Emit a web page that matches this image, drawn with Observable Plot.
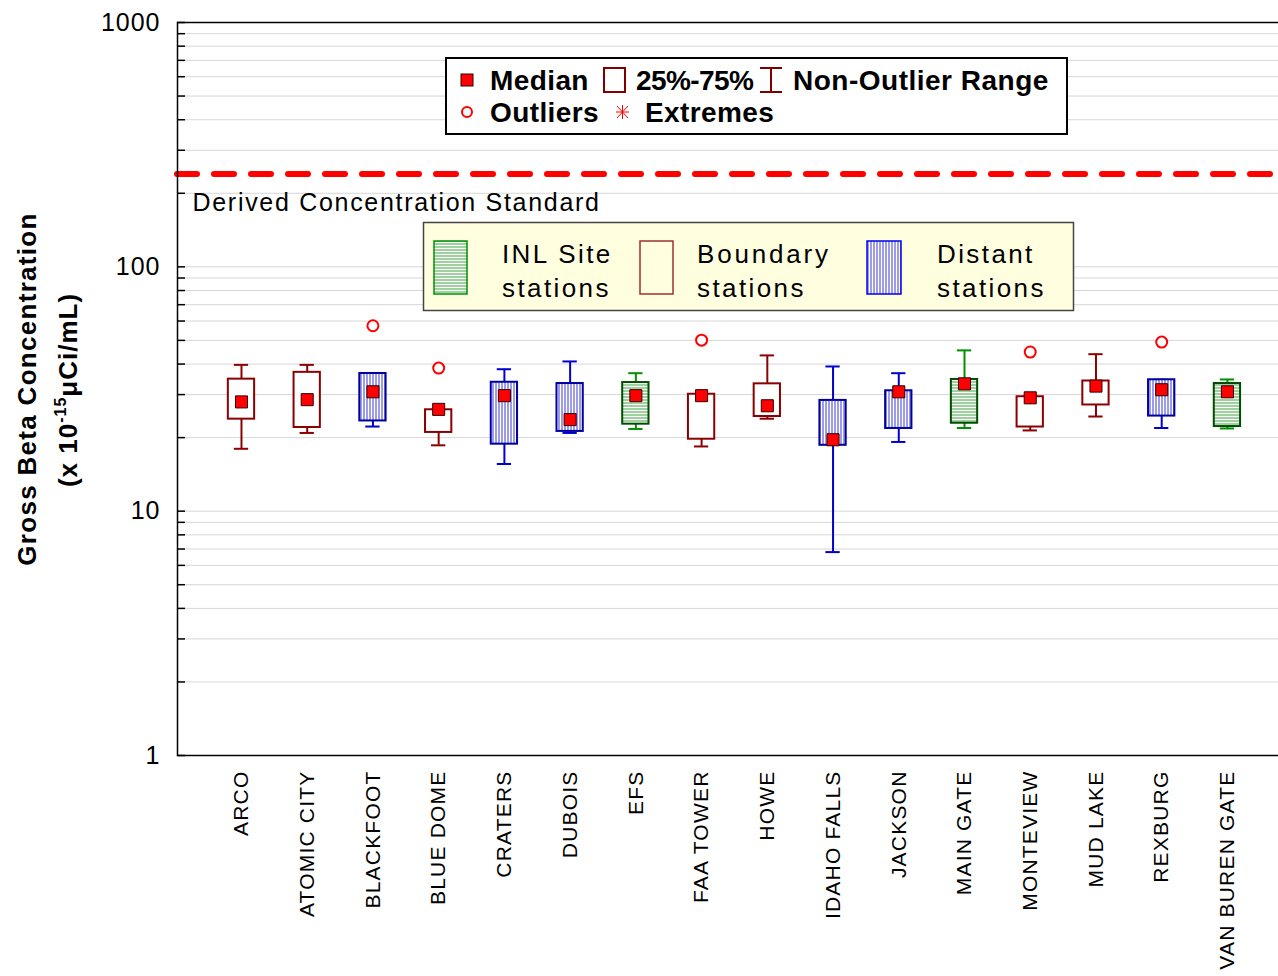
<!DOCTYPE html>
<html>
<head>
<meta charset="utf-8">
<script src="https://cdn.jsdelivr.net/npm/d3@7"></script>
<script src="https://cdn.jsdelivr.net/npm/@observablehq/plot@0.6"></script>
<style>
  html, body { margin: 0; padding: 0; background: white; }
  #wrap { position: relative; width: 1278px; height: 976px; overflow: hidden; }
  #overlay { position: absolute; left: 0; top: 0; pointer-events: none; }
  text { font-family: "Liberation Sans", Arial, sans-serif; }
</style>
</head>
<body>
<svg width="0" height="0" style="position:absolute">
  <defs>
    <pattern id="hatchV" patternUnits="userSpaceOnUse" width="3" height="3">
      <rect width="3" height="3" fill="white"/>
      <rect x="0" y="0" width="2" height="3" fill="#9c9ce8"/>
    </pattern>
    <pattern id="hatchH" patternUnits="userSpaceOnUse" width="3" height="3">
      <rect width="3" height="3" fill="white"/>
      <rect x="0" y="0" width="3" height="2" fill="#9fd09f"/>
    </pattern>
  </defs>
</svg>
<div id="wrap">
  <div id="chart"></div>
  <svg id="overlay" width="1278" height="976">
    <!-- legend 1 -->
    <rect x="446" y="58" width="621" height="76" fill="white" stroke="black" stroke-width="2"/>
    <rect x="461" y="74" width="12" height="12" fill="red" stroke="#300" stroke-width="1"/>
    <text x="490" y="90" font-size="28" font-weight="bold" style="letter-spacing:0.4px">Median</text>
    <rect x="604" y="68" width="21" height="24" fill="none" stroke="#800000" stroke-width="2"/>
    <text x="636" y="90" font-size="28" font-weight="bold" style="letter-spacing:-0.6px">25%-75%</text>
    <line x1="771" y1="68" x2="771" y2="92" stroke="#800000" stroke-width="2"/>
    <line x1="760" y1="68" x2="782" y2="68" stroke="#800000" stroke-width="2"/>
    <line x1="760" y1="92" x2="782" y2="92" stroke="#800000" stroke-width="2"/>
    <text x="793" y="90" font-size="28" font-weight="bold" style="letter-spacing:0.5px">Non-Outlier Range</text>
    <circle cx="467" cy="112" r="5" fill="none" stroke="red" stroke-width="2"/>
    <text x="490" y="122" font-size="28" font-weight="bold" style="letter-spacing:0.4px">Outliers</text>
    <line x1="616" y1="112" x2="629" y2="112" stroke="red" stroke-width="1"/>
    <line x1="617" y1="106" x2="628" y2="118" stroke="red" stroke-width="1"/>
    <line x1="628" y1="106" x2="617" y2="118" stroke="red" stroke-width="1"/>
    <line x1="622.5" y1="105" x2="622.5" y2="119" stroke="red" stroke-width="1"/>
    <text x="645" y="122" font-size="28" font-weight="bold" style="letter-spacing:0.4px">Extremes</text>
    <!-- legend 2 -->
    <rect x="423.5" y="222.5" width="650" height="88" fill="#ffffe0" stroke="#444" stroke-width="1.5"/>
    <rect x="434" y="241" width="33" height="53" fill="url(#hatchH)" stroke="#009000" stroke-width="1.5"/>
    <text x="502" y="263" font-size="26" style="letter-spacing:2.4px">INL Site</text>
    <text x="502" y="297" font-size="26" style="letter-spacing:2.4px">stations</text>
    <rect x="640" y="241" width="33" height="53" fill="none" stroke="#a03030" stroke-width="1.5"/>
    <text x="697" y="263" font-size="26" style="letter-spacing:2.8px">Boundary</text>
    <text x="697" y="297" font-size="26" style="letter-spacing:2.4px">stations</text>
    <rect x="867" y="241" width="34" height="53" fill="url(#hatchV)" stroke="#0000ee" stroke-width="1.5"/>
    <text x="937" y="263" font-size="26" style="letter-spacing:2.4px">Distant</text>
    <text x="937" y="297" font-size="26" style="letter-spacing:2.4px">stations</text>
  </svg>
</div>
<script>
// ---- data ----
const stations = ["ARCO", "ATOMIC CITY", "BLACKFOOT", "BLUE DOME", "CRATERS", "DUBOIS", "EFS",
  "FAA TOWER", "HOWE", "IDAHO FALLS", "JACKSON", "MAIN GATE", "MONTEVIEW", "MUD LAKE",
  "REXBURG", "VAN BUREN GATE"];
const groups = ["Boundary", "Boundary", "Distant", "Boundary", "Distant", "Distant", "INL",
  "Boundary", "Boundary", "Distant", "Distant", "INL", "Boundary", "Boundary", "Distant", "INL"];
const whiskerLow  = [18.0, 20.9, 22.2, 18.6, 15.6, 20.9, 21.7, 18.4, 23.9, 6.8, 19.2, 21.9, 21.4, 24.4, 21.9, 21.8];
const q1          = [23.8, 22.0, 23.4, 21.0, 18.8, 21.2, 22.7, 19.7, 24.4, 18.6, 21.8, 22.9, 22.1, 27.2, 24.5, 22.2];
const medians     = [28.0, 28.6, 30.8, 26.1, 29.7, 23.7, 29.7, 29.7, 27.0, 19.6, 30.8, 33.2, 29.1, 32.5, 31.4, 30.8];
const q3          = [34.7, 37.0, 36.6, 26.0, 33.7, 33.3, 33.6, 30.1, 33.2, 28.4, 31.1, 34.6, 29.4, 34.1, 34.5, 33.3];
const whiskerHigh = [39.7, 39.7, 36.6, 26.0, 38.1, 41.0, 36.7, 30.1, 43.4, 39.1, 36.7, 45.5, 29.4, 43.9, 34.5, 34.6];
const outlierStations = ["BLACKFOOT", "BLUE DOME", "FAA TOWER", "MONTEVIEW", "REXBURG"];
const outlierValues   = [57.4, 38.5, 50.1, 44.8, 49.2];
const dcsValue = 240;
const dcsLabel = "Derived Concentration Standard";
const majorTicks = [1, 10, 100, 1000];
const allTicks = [1,2,3,4,5,6,7,8,9,10,20,30,40,50,60,70,80,90,100,200,300,400,500,600,700,800,900,1000];
const gridValues = allTicks.filter(v => v > 1 && v < 1000);

// ---- tables built from arrays ----
const rows = stations.map((s, i) => ({
  station: s, group: groups[i], lo: whiskerLow[i], q1: q1[i], med: medians[i], q3: q3[i], hi: whiskerHigh[i]
}));
const outliers = outlierStations.map((s, i) => ({station: s, value: outlierValues[i]}));

const styles = {
  Boundary: {box: "#8b0000", whisker: "#8b0000", fill: "white"},
  Distant:  {box: "#0000a0", whisker: "#0000cc", fill: "url(#hatchV)"},
  INL:      {box: "#004d00", whisker: "#009000", fill: "url(#hatchH)"}
};

const groupMarks = Object.keys(styles).flatMap(g => {
  const st = styles[g];
  const f = d => d.group === g;
  return [
    Plot.ruleX(rows, {filter: f, x: "station", y1: "lo", y2: "hi", stroke: st.whisker, strokeWidth: 2}),
    Plot.tickY(rows, {filter: f, x: "station", y: "lo", stroke: st.whisker, strokeWidth: 2, insetLeft: 6, insetRight: 6}),
    Plot.tickY(rows, {filter: f, x: "station", y: "hi", stroke: st.whisker, strokeWidth: 2, insetLeft: 6, insetRight: 6}),
    Plot.barY(rows, {filter: f, x: "station", y1: "q1", y2: "q3", fill: st.fill, stroke: st.box, strokeWidth: 2})
  ];
});

const chart = Plot.plot({
  width: 1278,
  height: 976,
  marginLeft: 177,
  marginRight: -3,
  marginTop: 22,
  marginBottom: 221,
  style: {fontFamily: "'Liberation Sans', Arial, sans-serif", background: "white", color: "black"},
  x: {type: "band", domain: stations, paddingInner: 0.6, paddingOuter: 0.698, align: 0.554, round: false, label: null},
  y: {type: "log", domain: [1, 1000], label: null},
  marks: [
    Plot.ruleY(gridValues, {stroke: "#d6d6d6", strokeWidth: 1}),
    Plot.ruleY([dcsValue], {stroke: "red", strokeWidth: 6, strokeDasharray: "20,17", strokeLinecap: "round"}),
    Plot.text([dcsValue], {y: d => d, text: () => dcsLabel, frameAnchor: "left", textAnchor: "start",
      dx: 15, dy: 29, fontSize: 25, fill: "black"}),
    ...groupMarks,
    Plot.dot(outliers, {x: "station", y: "value", r: 5.5, stroke: "red", strokeWidth: 2, fill: "white"}),
    Plot.dot(rows, {x: "station", y: "med", symbol: "square", r: 6.8, fill: "red", stroke: "#300", strokeWidth: 1}),
    Plot.frame({stroke: "black", strokeWidth: 1.5}),
    Plot.axisX({tickSize: 0, tickPadding: 15, tickRotate: -90, fontSize: 21, label: null}),
    Plot.axisY({ticks: majorTicks, tickFormat: d => String(d), tickSize: 0, tickPadding: 17, fontSize: 25, label: null}),
    Plot.axisY({ticks: allTicks, tickFormat: () => "", tickSize: -8, label: null, strokeWidth: 1.5})
  ]
});
document.getElementById("chart").appendChild(chart);

const svg = d3.select(chart);
svg.selectAll('g[aria-label="x-axis tick label"] text').style("letter-spacing", "1.2px");
svg.selectAll('g[aria-label="y-axis tick label"] text').style("letter-spacing", "1px");
svg.selectAll('g[aria-label="text"] text').style("letter-spacing", "1.7px");

// y-axis title (two lines, with superscript)
svg.append("text")
  .attr("transform", "translate(27,389) rotate(-90)")
  .attr("text-anchor", "middle").attr("dy", "0.35em")
  .attr("font-size", 26).attr("font-weight", "bold")
  .style("letter-spacing", "1.3px")
  .text("Gross Beta Concentration");
const t2 = svg.append("text")
  .attr("transform", "translate(68,390) rotate(-90)")
  .attr("text-anchor", "middle").attr("dy", "0.35em")
  .attr("font-size", 26).attr("font-weight", "bold")
  .style("letter-spacing", "1px");
t2.append("tspan").text("(x 10");
t2.append("tspan").attr("dy", -11).attr("font-size", 16).text("-15");
t2.append("tspan").attr("dy", 11).text("μCi/mL)");
</script>
</body>
</html>
